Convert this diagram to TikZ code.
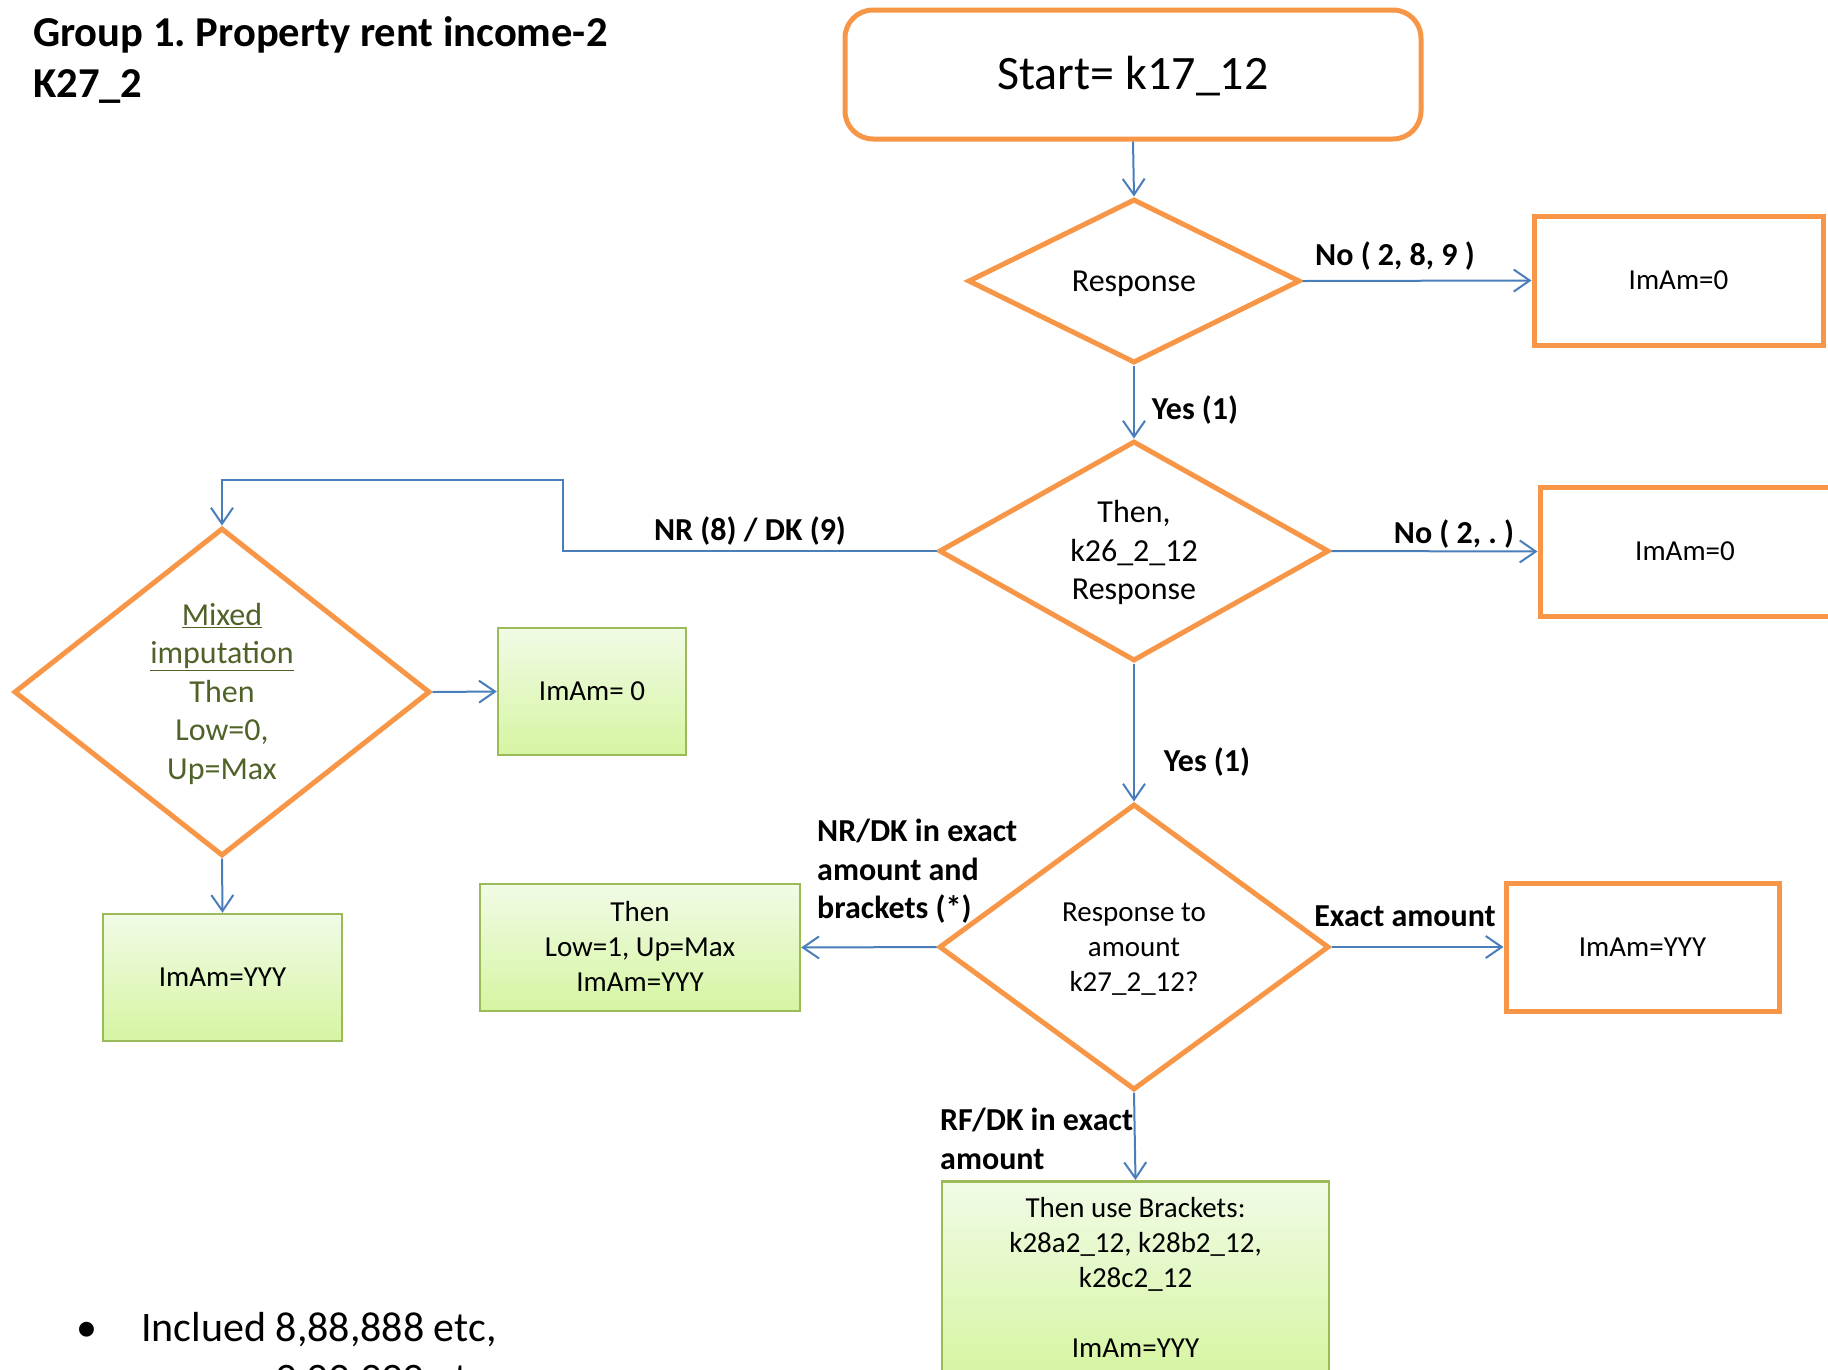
\documentclass[tikz,border=0pt]{standalone}
\usepackage{fontspec}
\setmainfont{Carlito}
\usetikzlibrary{shapes.geometric,arrows.meta}
\definecolor{orng}{HTML}{F79646}
\definecolor{connc}{HTML}{4A7EBB}
\definecolor{grnb}{HTML}{9BBB59}
\definecolor{grtop}{HTML}{F1FBE6}
\definecolor{grbot}{HTML}{D6F5A2}
\definecolor{olive}{HTML}{4F6228}
\newcommand\su{\rule{0pt}{0.86em}}
\newcommand\sd{\rule[-0.22em]{0pt}{0.22em}}
\frenchspacing
\begin{document}
\begin{tikzpicture}[x=1pt,y=-1pt,
  startbox/.style={draw=orng, line width=5pt, rounded corners=28pt, minimum width=576pt, minimum height=129pt, inner sep=0pt, font=\fontsize{48}{58}\selectfont},
  dec/.style={draw=orng, line width=5pt, diamond, inner sep=0pt, align=center, font=\fontsize{32}{38.5}\selectfont},
  obox/.style={draw=orng, line width=5pt, rectangle, inner sep=0pt, align=center, font=\fontsize{29}{35}\selectfont},
  gbox/.style={draw=grnb, line width=2.5pt, top color=grtop, bottom color=grbot, rectangle, inner sep=0pt, align=center, font=\fontsize{29}{35}\selectfont},
  conn/.style={draw=connc, line width=2pt, -{Straight Barb[length=16pt,width=22pt,line width=2pt]}},
  lbl/.style={font=\bfseries\fontsize{32}{38.5}\selectfont, inner sep=0pt, align=left}
]
\useasboundingbox (0,0) rectangle (1828,1369);

% title
\node[anchor=west, align=left, inner sep=0pt, font=\bfseries\fontsize{42.6}{51.4}\selectfont] (title) at (33,58.3) {\su Group 1. Property rent income-2\\K27\_2\sd};

% main nodes
\node[startbox] (start) at (1133,74.5) {\su Start= k17\_12\sd};
\node[dec, shape aspect=2.02, minimum width=332pt, minimum height=164pt] (d1) at (1134,281) {\su Response\sd};
\node[obox, minimum width=289pt, minimum height=129pt] (o1) at (1678.5,280.5) {\su ImAm=0\sd};
\node[dec, shape aspect=1.77, minimum width=390pt, minimum height=220pt] (d2) at (1134,551) {\su Then,\\k26\_2\_12\\Response\sd};
\node[obox, minimum width=290pt, minimum height=129pt] (o2) at (1685,551.5) {\su ImAm=0\sd};
\node[dec, shape aspect=1.27, minimum width=416pt, minimum height=328pt, text=olive] (mix) at (222,692) {\su\underline{Mixed}\\\underline{imputation}\\Then\\Low=0,\\Up=Max\sd};
\node[gbox, minimum width=188pt, minimum height=127pt] (gA) at (592,691.5) {\su ImAm= 0\sd};
\node[gbox, minimum width=239pt, minimum height=127pt] (gB) at (222.5,977.5) {\su ImAm=YYY\sd};
\node[dec, shape aspect=1.36, minimum width=390pt, minimum height=286pt, font=\fontsize{29}{35}\selectfont] (d3) at (1134,947) {\su Response to\\amount\\k27\_2\_12?\sd};
\node[gbox, minimum width=320pt, minimum height=127pt] (gC) at (640,947.5) {\su Then\\Low=1, Up=Max\\ImAm=YYY\sd};
\node[obox, minimum width=273pt, minimum height=128pt] (o3) at (1642.5,947) {\su ImAm=YYY\sd};
\node[gbox, minimum width=387pt, minimum height=194pt, anchor=north] (gD) at (1135.5,1180) {\su Then use Brackets:\\k28a2\_12, k28b2\_12,\\k28c2\_12\\[35pt]ImAm=YYY\sd};

% connectors
\coordinate (c1) at (563,480);
\draw[conn] (start.south) -- (d1.north);
\draw[conn] (d1.east) -- (o1.west);
\draw[conn] (d1.south) -- (d2.north);
\draw[conn] (d2.east) -- (o2.west);
\draw[conn] (d2.west) -| (c1) -| (mix.north);
\draw[conn] (d2.south) -- (d3.north);
\draw[conn] (mix.east) -- (gA.west);
\draw[conn] (mix.south) -- (gB.north);
\draw[conn] (d3.west) -- (gC.east);
\draw[conn] (d3.east) -- (o3.west);
\draw[conn] (d3.south) -- (gD.north);

% labels
\node[lbl] (l1) at (1395,255) {\su No ( 2, 8, 9 )\sd};
\node[lbl] (l2) at (1195,409) {\su Yes (1)\sd};
\node[lbl] (l3) at (1454,533) {\su No ( 2, . )\sd};
\node[lbl] (l4) at (750,530) {\su NR (8) / DK (9)\sd};
\node[lbl] (l5) at (1207,761) {\su Yes (1)\sd};
\node[lbl] (l6) at (1405,916) {\su Exact amount\sd};
\node[lbl, anchor=west] (l7) at (817,870) {\su NR/DK in exact\\amount and\\brackets (*)\sd};
\node[lbl, anchor=west] (l8) at (940,1139.5) {\su RF/DK in exact\\amount\sd};

% note
\node[inner sep=0pt, font=\fontsize{42}{51}\selectfont] (bul) at (87,1328) {\su\textbullet\sd};
\node[anchor=west, inner sep=0pt, font=\fontsize{42}{51}\selectfont] (note1) at (141,1328) {\su Inclued 8,88,888 etc,\sd};
\node[anchor=west, inner sep=0pt, font=\fontsize{42}{51}\selectfont] (note2) at (275,1379) {\su 9,99,999 etc\sd};
\end{tikzpicture}
\end{document}
